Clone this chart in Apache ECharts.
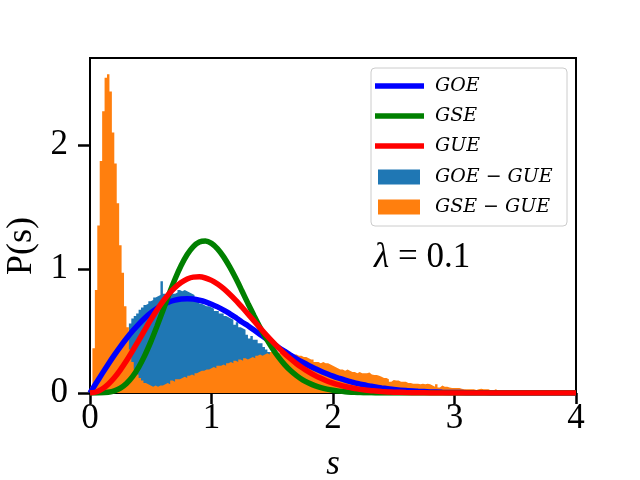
<!DOCTYPE html>
<html>
<head>
<meta charset="utf-8">
<script src="https://cdn.jsdelivr.net/npm/echarts@6/dist/echarts.min.js"></script>
<style>
  html, body { margin: 0; padding: 0; background: #fff; }
  #chart { width: 640px; height: 480px; }
</style>
</head>
<body>
<div id="chart"></div>
<script>
// histogram bins (width 0.02), densities
const binWidth = 0.02;
const orangeFirstEdge = 0.0;   // GSE - GUE
const blueFirstEdge = 0.30;    // GOE - GUE

const gseGueDensity = [
  0.05, 0.36, 0.83, 1.35, 1.87, 2.27, 2.54, 2.57, 2.43, 2.10,
  1.85, 1.53, 1.19, 0.97, 0.70, 0.53, 0.35, 0.25, 0.19, 0.15,
  0.12, 0.10, 0.08, 0.07, 0.06, 0.05, 0.06, 0.05, 0.06, 0.06,
  0.07, 0.08, 0.07, 0.10, 0.09, 0.11, 0.11, 0.12, 0.13, 0.12,
  0.14, 0.15, 0.14, 0.16, 0.17, 0.18, 0.18, 0.19, 0.19, 0.20,
  0.21, 0.20, 0.22, 0.22, 0.23, 0.22, 0.24, 0.25, 0.24, 0.26,
  0.25, 0.27, 0.26, 0.28, 0.27, 0.28, 0.29, 0.28, 0.30, 0.31,
  0.30, 0.31, 0.32, 0.31, 0.33, 0.32, 0.33, 0.32, 0.33, 0.32,
  0.33, 0.31, 0.32, 0.31, 0.31, 0.30, 0.30, 0.29, 0.29, 0.28,
  0.27, 0.27, 0.25, 0.25, 0.24, 0.25, 0.24, 0.24, 0.23, 0.22,
  0.21, 0.20, 0.19, 0.19, 0.18, 0.19, 0.18, 0.17, 0.17, 0.16,
  0.17, 0.16, 0.16, 0.16, 0.165, 0.15, 0.145, 0.145, 0.14, 0.13,
  0.12, 0.12, 0.11, 0.09, 0.105, 0.10, 0.10, 0.09, 0.09, 0.09,
  0.08, 0.08, 0.075, 0.075, 0.075, 0.07, 0.075, 0.07, 0.075, 0.07,
  0.06, 0.05, 0.07, 0.045, 0.06, 0.05, 0.05, 0.045, 0.04, 0.04,
  0.04, 0.04, 0.035, 0.03, 0.03, 0.03, 0.03, 0.03, 0.025, 0.03,
  0.035, 0.03, 0.03, 0.03, 0.02, 0.02, 0.03, 0.02, 0.02, 0.015,
  0.015, 0.015, 0.01, 0.015, 0.01, 0.01, 0.012, 0.01, 0.008, 0.01,
  0.02, 0.01, 0.008, 0.008, 0.006, 0.007, 0.006, 0.005, 0.006, 0.005,
  0.004, 0.005, 0.004, 0.003, 0.004, 0.003, 0.002, 0.003, 0.002, 0.002
];

const goeGueDensity = [
  0.45, 0.56, 0.60, 0.62, 0.64, 0.67, 0.69, 0.71, 0.72, 0.74,
  0.75, 0.77, 0.78, 0.79, 0.90, 0.80, 0.79, 0.81, 0.82, 0.80,
  0.81, 0.83, 0.82, 0.83, 0.82, 0.81, 0.80, 0.79, 0.76, 0.74,
  0.72, 0.71, 0.70, 0.70, 0.69, 0.68, 0.66, 0.66, 0.64, 0.64,
  0.62, 0.61, 0.60, 0.59, 0.55, 0.57, 0.53, 0.52, 0.51, 0.47,
  0.44, 0.46, 0.43, 0.43, 0.40, 0.40, 0.37, 0.35, 0.33, 0.32,
  0.29, 0.26, 0.24, 0.21, 0.19, 0.16, 0.14, 0.12, 0.10, 0.08,
  0.06, 0.05, 0.04, 0.03, 0.02, 0.01
];

// curve samples: every 0.05 up to 2.5, then every 0.1
const sGrid = [
  0.00, 0.05, 0.10, 0.15, 0.20, 0.25, 0.30, 0.35, 0.40, 0.45,
  0.50, 0.55, 0.60, 0.65, 0.70, 0.75, 0.80, 0.85, 0.90, 0.95,
  1.00, 1.05, 1.10, 1.15, 1.20, 1.25, 1.30, 1.35, 1.40, 1.45,
  1.50, 1.55, 1.60, 1.65, 1.70, 1.75, 1.80, 1.85, 1.90, 1.95,
  2.00, 2.05, 2.10, 2.15, 2.20, 2.25, 2.30, 2.35, 2.40, 2.45,
  2.50,
  2.6, 2.7, 2.8, 2.9, 3.0, 3.1, 3.2, 3.3, 3.4, 3.5, 3.6, 3.7, 3.8, 3.9, 4.0
];
const goe = [
  0, 0.078, 0.156, 0.232, 0.305, 0.374, 0.439, 0.499, 0.554, 0.603,
  0.645, 0.681, 0.710, 0.733, 0.748, 0.757, 0.760, 0.757, 0.748, 0.735,
  0.716, 0.694, 0.668, 0.639, 0.608, 0.572, 0.542, 0.507, 0.472, 0.437,
  0.403, 0.369, 0.337, 0.306, 0.276, 0.248, 0.222, 0.198, 0.175, 0.155,
  0.136, 0.119, 0.103, 0.090, 0.077, 0.066, 0.057, 0.048, 0.041, 0.035,
  0.029,
  0.020, 0.014, 0.009, 0.006, 0.004, 0.003, 0.002, 0.001, 0.001, 0, 0, 0, 0, 0, 0
];
const gse = [
  0, 0, 0.001, 0.006, 0.017, 0.039, 0.077, 0.132, 0.207, 0.301,
  0.412, 0.535, 0.665, 0.796, 0.919, 1.027, 1.116, 1.180, 1.217, 1.225,
  1.206, 1.162, 1.097, 1.016, 0.924, 0.824, 0.722, 0.623, 0.527, 0.440,
  0.361, 0.291, 0.231, 0.181, 0.140, 0.106, 0.080, 0.059, 0.043, 0.031,
  0.022, 0.015, 0.010, 0.007, 0.005, 0.003, 0.002, 0.001, 0.001, 0.001,
  0,
  0, 0, 0, 0, 0, 0, 0, 0, 0, 0, 0, 0, 0, 0, 0
];
const gue = [
  0, 0.008, 0.032, 0.071, 0.123, 0.187, 0.260, 0.340, 0.423, 0.507,
  0.590, 0.667, 0.738, 0.800, 0.851, 0.891, 0.919, 0.934, 0.936, 0.927,
  0.908, 0.878, 0.841, 0.796, 0.747, 0.693, 0.637, 0.580, 0.524, 0.469,
  0.416, 0.366, 0.319, 0.276, 0.236, 0.201, 0.170, 0.142, 0.118, 0.097,
  0.080, 0.065, 0.052, 0.042, 0.033, 0.026, 0.020, 0.016, 0.012, 0.009,
  0.007,
  0.004, 0.002, 0.001, 0.001, 0, 0, 0, 0, 0, 0, 0, 0, 0, 0, 0
];

const yTicks = [0, 1, 2];

const serif = "'Liberation Serif', 'DejaVu Serif', serif";
const legendFont = "italic 19px 'DejaVu Serif', serif";

// histogram as a step outline: one point per left bin edge, plus the last right edge
function toSteps(first, values) {
  const pts = values.map((v, i) => [first + i * binWidth, v]);
  pts.push([first + values.length * binWidth, values[values.length - 1]]);
  return pts;
}
function toLine(ys) {
  return ys.map((v, i) => [sGrid[i], v]);
}

const chart = echarts.init(document.getElementById('chart'), null, { renderer: 'canvas' });

const histSeries = (name, first, values, color) => ({
  name: name,
  type: 'line',
  step: 'end',
  data: toSteps(first, values),
  symbol: 'none',
  clip: true,
  lineStyle: { width: 0, color: color },
  areaStyle: { color: color, opacity: 1 },
  itemStyle: { color: color }
});

const lineSeries = (name, ys, color) => ({
  name: name,
  type: 'line',
  data: toLine(ys),
  smooth: 0.3,
  symbol: 'none',
  clip: true,
  lineStyle: { color: color, width: 5.5 },
  itemStyle: { color: color }
});

// legend drawn by hand to mimic matplotlib
const legendRows = [
  { kind: 'line', color: '#0000ff', label: 'GOE', y: 86 },
  { kind: 'line', color: '#008000', label: 'GSE', y: 116 },
  { kind: 'line', color: '#ff0000', label: 'GUE', y: 146 },
  { kind: 'rect', color: '#1f77b4', label: 'GOE − GUE', y: 177 },
  { kind: 'rect', color: '#ff7f0e', label: 'GSE − GUE', y: 207 }
];
const legendGraphics = [{
  type: 'rect',
  shape: { x: 371, y: 68, width: 196, height: 158, r: 4 },
  style: { fill: 'rgba(255,255,255,0.8)', stroke: '#cccccc', lineWidth: 1 },
  z: 10
}];
legendRows.forEach(r => {
  if (r.kind === 'line') {
    legendGraphics.push({
      type: 'line', z: 11,
      shape: { x1: 375, y1: r.y, x2: 424, y2: r.y },
      style: { stroke: r.color, lineWidth: 5.5 }
    });
  } else {
    legendGraphics.push({
      type: 'rect', z: 11,
      shape: { x: 378, y: r.y - 7.5, width: 42, height: 15 },
      style: { fill: r.color }
    });
  }
  legendGraphics.push({
    type: 'text', z: 11, x: 435, y: r.y,
    style: { text: r.label, fill: '#000', font: legendFont, verticalAlign: 'middle' }
  });
});

const option = {
  animation: false,
  backgroundColor: '#ffffff',
  grid: {
    left: 90, right: 64, top: 58, bottom: 87,
    outerBoundsMode: 'none',
    show: true, borderColor: '#000', borderWidth: 2, backgroundColor: 'transparent'
  },
  xAxis: {
    type: 'value', min: 0, max: 4, interval: 1,
    name: 's', nameLocation: 'middle', nameGap: 54,
    nameTextStyle: { fontFamily: serif, fontStyle: 'italic', fontSize: 35, color: '#000' },
    axisLine: { show: true, lineStyle: { color: '#000', width: 2 } },
    axisTick: { show: true, length: 11, lineStyle: { color: '#000', width: 2.5 } },
    axisLabel: { color: '#000', fontFamily: serif, fontSize: 35, margin: 8 },
    splitLine: { show: false }
  },
  yAxis: {
    type: 'value', min: 0, max: 2.7,
    axisLine: { show: true, lineStyle: { color: '#000', width: 2 } },
    axisTick: { show: true, length: 12, customValues: yTicks, lineStyle: { color: '#000', width: 2.5 } },
    axisLabel: { color: '#000', fontFamily: serif, fontSize: 35, margin: 22, customValues: yTicks },
    splitLine: { show: false }
  },
  graphic: [
    {
      type: 'text', x: 22, y: 246, rotation: Math.PI / 2,
      style: { text: 'P(s)', font: '36px ' + serif, fill: '#000', align: 'center', verticalAlign: 'middle' }
    },
    {
      type: 'text', x: 374, y: 258,
      style: {
        text: '{i|λ} = 0.1',
        verticalAlign: 'middle',
        rich: { i: { font: 'italic 35px ' + serif, fill: '#000' } },
        font: '35px ' + serif, fill: '#000'
      }
    }
  ].concat(legendGraphics),
  series: [
    histSeries('GOE − GUE', blueFirstEdge, goeGueDensity, '#1f77b4'),
    histSeries('GSE − GUE', orangeFirstEdge, gseGueDensity, '#ff7f0e'),
    lineSeries('GOE', goe, '#0000ff'),
    lineSeries('GSE', gse, '#008000'),
    lineSeries('GUE', gue, '#ff0000')
  ]
};
chart.setOption(option);
</script>
</body>
</html>
